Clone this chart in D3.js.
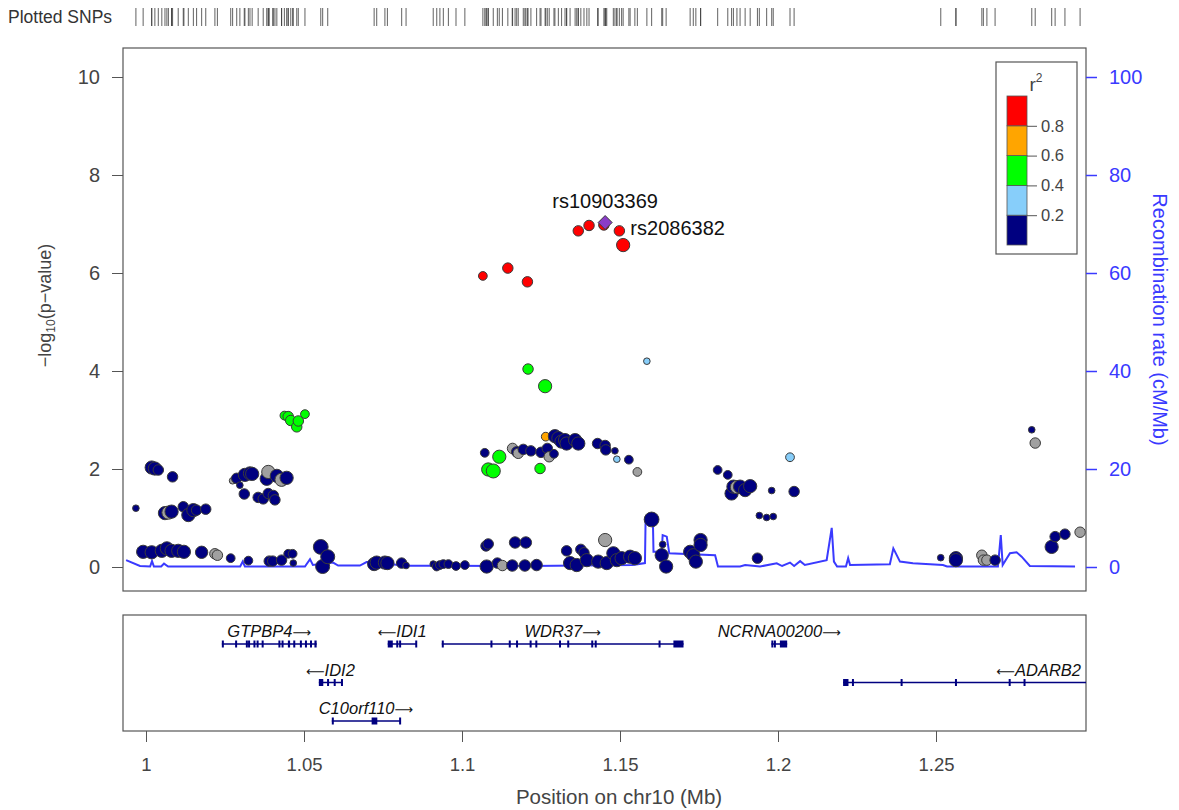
<!DOCTYPE html>
<html>
<head>
<meta charset="utf-8">
<script src="https://cdn.jsdelivr.net/npm/d3@7"></script>
<style>
  body { margin: 0; background: #fff; }
  text { font-family: "Liberation Sans", Arial, sans-serif; }
</style>
</head>
<body>
<div id="chart"></div>
<script>
// SNPs: [position (Mb), -log10(p), r2 with lead SNP (null = no LD info), marker weight]
const snps = [
  [0.9968, 1.20, 0.1, 0.2], [0.9991, 0.31, 0.1, 0.8], [1.0018, 2.03, 0.1, 0.8], [1.0018, 0.30, 0.1, 0.8],
  [1.0028, 2.01, 0.1, 0.8], [1.0039, 1.98, 0.1, 0.5], [1.0050, 0.33, 0.1, 0.8], [1.0060, 1.10, 0.1, 0.8],
  [1.0066, 0.38, 0.1, 0.8], [1.0071, 1.11, null, 0.8], [1.0081, 1.13, 0.1, 0.8], [1.0081, 0.33, 0.1, 0.8],
  [1.0084, 1.84, 0.1, 0.5], [1.0102, 0.33, 0.1, 0.8], [1.0118, 1.23, 0.1, 0.5], [1.0120, 0.31, 0.1, 0.8],
  [1.0134, 1.06, 0.1, 0.8], [1.0150, 1.16, 0.1, 0.8], [1.0160, 1.16, 0.1, 0.5], [1.0176, 0.30, 0.1, 0.7],
  [1.0189, 1.18, 0.1, 0.5], [1.0218, 0.27, null, 0.5], [1.0226, 0.24, null, 0.5], [1.0268, 0.18, 0.1, 0.35],
  [1.0274, 1.76, null, 0.2], [1.0287, 1.81, 0.1, 0.5], [1.0297, 1.67, 0.1, 0.2], [1.0311, 1.49, 0.1, 0.5],
  [1.0313, 1.88, 0.1, 0.8], [1.0324, 0.13, 0.1, 0.35], [1.0329, 1.91, 0.1, 0.8], [1.0336, 1.90, 0.1, 0.8],
  [1.0355, 1.42, 0.1, 0.5], [1.0371, 1.39, 0.1, 0.5], [1.0382, 1.80, 0.1, 0.8], [1.0387, 1.94, null, 0.8],
  [1.0387, 1.50, 0.1, 0.5], [1.0390, 0.12, 0.1, 0.5], [1.0401, 0.12, 0.1, 0.5], [1.0403, 1.46, 0.1, 0.5],
  [1.0408, 1.37, 0.1, 0.5], [1.0414, 1.86, 0.1, 0.8], [1.0429, 1.78, null, 0.8], [1.0429, 0.14, 0.1, 0.5],
  [1.0438, 3.09, 0.5, 0.35], [1.0445, 1.82, 0.1, 0.8], [1.0450, 3.07, 0.5, 0.5], [1.0450, 0.27, 0.1, 0.35],
  [1.0458, 2.99, 0.5, 0.5], [1.0464, 0.27, 0.1, 0.35], [1.0466, 0.08, 0.1, 0.2], [1.0477, 2.86, 0.5, 0.5],
  [1.0482, 2.98, 0.5, 0.5], [1.0503, 3.12, 0.5, 0.35], [1.0553, 0.41, 0.1, 1.0], [1.0559, 0.01, 0.1, 0.9],
  [1.0575, 0.21, 0.1, 0.9], [1.0722, 0.06, 0.1, 0.8], [1.0730, 0.09, 0.1, 0.8], [1.0756, 0.09, 0.1, 0.8],
  [1.0764, 0.08, 0.1, 0.8], [1.0809, 0.08, 0.1, 0.5], [1.0823, 0.03, 0.1, 0.2], [1.0909, 0.06, 0.1, 0.2],
  [1.0920, 0.01, 0.1, 0.35], [1.0930, 0.04, 0.1, 0.35], [1.0941, 0.06, 0.1, 0.35], [1.0957, 0.06, 0.1, 0.35],
  [1.0981, 0.02, 0.1, 0.35], [1.1009, 0.04, 0.1, 0.35], [1.1066, 5.94, 0.9, 0.35], [1.1072, 2.33, 0.1, 0.35],
  [1.1076, 0.43, 0.1, 0.5], [1.1078, 0.01, 0.1, 0.8], [1.1083, 0.47, 0.1, 0.5], [1.1083, 1.99, 0.5, 0.8],
  [1.1099, 1.96, 0.5, 0.9], [1.1112, 0.08, 0.1, 0.5], [1.1118, 2.25, 0.5, 0.8], [1.1128, 0.03, null, 0.5],
  [1.1145, 6.10, 0.9, 0.5], [1.1159, 0.03, 0.1, 0.6], [1.1160, 2.42, null, 0.5], [1.1168, 0.50, 0.1, 0.6],
  [1.1173, 2.35, 0.1, 0.5], [1.1178, 2.32, null, 0.5], [1.1194, 2.40, 0.1, 0.5], [1.1199, 0.03, 0.1, 0.6],
  [1.1202, 0.50, 0.1, 0.6], [1.1207, 5.82, 0.9, 0.5], [1.1209, 4.04, 0.5, 0.5], [1.1218, 2.37, 0.1, 0.5],
  [1.1236, 0.04, 0.1, 0.6], [1.1247, 2.01, 0.5, 0.5], [1.1250, 2.34, 0.1, 0.5], [1.1263, 3.69, 0.5, 0.8],
  [1.1265, 2.66, 0.7, 0.35], [1.1270, 2.42, 0.1, 0.5], [1.1276, 2.25, null, 0.5], [1.1291, 2.31, 0.1, 0.35],
  [1.1294, 2.67, 0.1, 0.8], [1.1305, 2.63, 0.1, 0.8], [1.1315, 2.56, 0.1, 0.8], [1.1326, 2.59, 0.1, 0.8],
  [1.1331, 2.52, 0.1, 0.8], [1.1331, 0.33, 0.1, 0.5], [1.1342, 0.08, 0.1, 0.8], [1.1358, 2.59, 0.1, 0.8],
  [1.1363, 0.04, 0.1, 0.8], [1.1368, 2.52, 0.1, 0.8], [1.1368, 6.86, 0.9, 0.5], [1.1376, 0.36, 0.1, 0.5],
  [1.1386, 0.29, 0.1, 0.5], [1.1395, 0.14, 0.1, 0.8], [1.1402, 6.97, 0.9, 0.5], [1.1429, 2.52, 0.1, 0.5],
  [1.1431, 0.11, 0.1, 0.8], [1.1449, 6.98, 0.9, 0.5], [1.1453, 2.48, 0.1, 0.5], [1.1453, 0.55, null, 0.8],
  [1.1455, 2.39, 0.1, 0.5], [1.1458, 0.08, 0.1, 0.8], [1.1479, 0.28, 0.1, 0.8], [1.1484, 2.37, 0.1, 0.2],
  [1.1490, 2.20, 0.3, 0.2], [1.1490, 0.14, 0.1, 0.8], [1.1498, 6.86, 0.9, 0.5], [1.1505, 0.18, 0.1, 0.8],
  [1.1510, 6.57, 0.9, 0.8], [1.1528, 2.19, 0.1, 0.35], [1.1532, 0.21, 0.1, 0.8], [1.1547, 0.18, 0.1, 0.8],
  [1.1555, 1.94, null, 0.35], [1.1585, 4.20, 0.3, 0.2], [1.1600, 0.97, 0.1, 1.0], [1.1632, 0.24, 0.1, 0.8],
  [1.1635, 0.46, 0.1, 0.2], [1.1646, 0.01, 0.1, 0.8], [1.1722, 0.31, 0.1, 0.8], [1.1732, 0.24, 0.1, 0.8],
  [1.1740, 0.11, 0.1, 0.8], [1.1755, 0.55, 0.1, 0.8], [1.1755, 0.45, 0.1, 0.8], [1.1809, 1.98, 0.1, 0.35],
  [1.1841, 1.88, 0.1, 0.35], [1.1853, 1.50, 0.1, 0.8], [1.1859, 1.64, 0.1, 0.8], [1.1870, 1.63, null, 0.8],
  [1.1880, 1.64, 0.1, 0.8], [1.1896, 1.57, 0.1, 0.8], [1.1912, 1.65, 0.1, 0.8], [1.1935, 0.18, 0.1, 0.5],
  [1.1941, 1.05, 0.1, 0.2], [1.1964, 1.01, 0.1, 0.2], [1.1980, 1.56, 0.1, 0.2], [1.1985, 1.03, 0.1, 0.2],
  [1.2038, 2.24, 0.3, 0.35], [1.2051, 1.54, 0.1, 0.5], [1.2515, 0.19, 0.1, 0.2], [1.2563, 0.18, 0.1, 0.8],
  [1.2563, 0.14, 0.1, 0.8], [1.2645, 0.24, null, 0.5], [1.2650, 0.14, null, 0.5], [1.2661, 0.14, null, 0.5],
  [1.2687, 0.14, 0.1, 0.5], [1.2803, 2.80, 0.1, 0.2], [1.2814, 2.53, null, 0.5], [1.2866, 0.41, 0.1, 0.8],
  [1.2877, 0.62, 0.1, 0.5], [1.2908, 0.67, 0.1, 0.5], [1.2956, 0.71, null, 0.5]
];

// lead SNP and labelled SNPs
const leadSnp = {name: 'rs10903369', pos: 1.1453, logp: 7.03};
const labelledSnps = [{name: 'rs2086382', pos: 1.1498, logp: 6.86}];

// recombination rate (cM/Mb)
const recombPos = [0.9937, 0.9981, 1.0013, 1.0019, 1.0025, 1.0048, 1.0057, 1.0070, 1.0298, 1.0306,
  1.0313, 1.0503, 1.0519, 1.0528, 1.0592, 1.0608, 1.0677, 1.0698, 1.0715, 1.0820, 1.0930, 1.1215,
  1.1541, 1.1579, 1.1581, 1.1604, 1.1606, 1.1632, 1.1635, 1.1648, 1.1656, 1.1801, 1.1810, 1.1880,
  1.1896, 1.1943, 1.1996, 1.2013, 1.2038, 1.2051, 1.2070, 1.2085, 1.2154, 1.2170, 1.2177, 1.2187,
  1.2215, 1.2222, 1.2228, 1.2354, 1.2365, 1.2386, 1.2427, 1.2522, 1.2535, 1.2696, 1.2705, 1.2711,
  1.2734, 1.2755, 1.2771, 1.2797, 1.2940];
const recombRate = [1.4, 0.2, 0.1, 1.2, 0.1, 0.1, 0.7, 0.1, 0.1, 1.1,
  0.1, 0.1, 1.6, 0.4, 0.9, 0.3, 0.3, 1.0, 1.0, 0.25, 0.25, 0.2,
  0.4, 0.8, 9.8, 9.8, 3.1, 3.1, 6.5, 6.2, 2.8, 2.4, 0.1, 0.1,
  0.4, 0.1, 0.75, 0.2, 0.9, 0.2, 1.2, 0.4, 1.4, 8.0, 1.1, 0.1,
  0.1, 1.8, 0.4, 0.55, 3.8, 1.1, 0.75, 0.4, 0.1, 0.1, 6.5, 0.4,
  2.8, 3.0, 2.1, 0.2, 0.1];

// genes (positions in Mb)
const genes = [
  {name: 'GTPBP4', start: 1.0240, end: 1.0540, strand: '+', exons: [[1.0240, 1.0243], [1.0282, 1.0285],
    [1.0316, 1.0319], [1.0323, 1.0326], [1.0340, 1.0343], [1.0350, 1.0353], [1.0366, 1.0369], [1.0419, 1.0422],
    [1.0429, 1.0432], [1.0449, 1.0456], [1.0466, 1.0469], [1.0487, 1.0490], [1.0503, 1.0506], [1.0519, 1.0522],
    [1.0533, 1.0540]]},
  {name: 'IDI2', start: 1.0547, end: 1.0620, strand: '-', exons: [[1.0547, 1.0561], [1.0573, 1.0576],
    [1.0594, 1.0597], [1.0617, 1.0620]]},
  {name: 'C10orf110', start: 1.0588, end: 1.0804, strand: '+', exons: [[1.0588, 1.0591], [1.0714, 1.0732],
    [1.0801, 1.0804]]},
  {name: 'IDI1', start: 1.0765, end: 1.0856, strand: '-', exons: [[1.0765, 1.0781], [1.0792, 1.0795],
    [1.0801, 1.0804], [1.0852, 1.0856]]},
  {name: 'WDR37', start: 1.0936, end: 1.1701, strand: '+', exons: [[1.0936, 1.0939], [1.1090, 1.1093],
    [1.1148, 1.1151], [1.1171, 1.1176], [1.1214, 1.1217], [1.1232, 1.1235], [1.1307, 1.1310], [1.1333, 1.1336],
    [1.1409, 1.1412], [1.1420, 1.1423], [1.1622, 1.1626], [1.1669, 1.1701]]},
  {name: 'NCRNA00200', start: 1.1979, end: 1.2029, strand: '+', exons: [[1.1979, 1.1982], [1.1987, 1.1990],
    [1.2006, 1.2029]]},
  {name: 'ADARB2', start: 1.2206, end: 1.7790, strand: '-', exons: [[1.2206, 1.2223], [1.2234, 1.2237],
    [1.2388, 1.2391], [1.2560, 1.2563], [1.2730, 1.2733], [1.2777, 1.2780]]}
];

const xTicks = [1, 1.05, 1.1, 1.15, 1.2, 1.25];
const yTicks = [0, 2, 4, 6, 8, 10];
const recombTicks = [0, 20, 40, 60, 80, 100];
const r2Breaks = [0.2, 0.4, 0.6, 0.8];
const r2Colors = ['#000080', '#87CEFA', '#00FF00', '#FFA500', '#FF0000'];
const r2Labels = ['0.2', '0.4', '0.6', '0.8'];

const W = 1179, H = 810;
const plot = {l: 123, r: 1086, t: 48, b: 591};
const genePanel = {t: 615, b: 731};
const blue = '#3a3aff';
const axisGrey = '#444';

const svg = d3.select('#chart').append('svg')
    .attr('width', W)
    .attr('height', H);

const x = d3.scaleLinear().domain([1, 1.25]).range([146, 936]);
const y = d3.scaleLinear().domain([0, 10]).range([567, 77]);
const yRec = d3.scaleLinear().domain([0, 100]).range([567, 77]);
const rad = d3.scaleSqrt().domain([0, 1]).range([0, 7.4]);
const color = d3.scaleThreshold().domain(r2Breaks).range(r2Colors);
const fillFor = r2 => r2 == null ? '#A0A0A0' : color(r2);

const defs = svg.append('defs');
defs.append('clipPath').attr('id', 'plotClip')
    .append('rect')
    .attr('x', plot.l).attr('y', plot.t)
    .attr('width', plot.r - plot.l).attr('height', plot.b - plot.t);
defs.append('clipPath').attr('id', 'geneClip')
    .append('rect')
    .attr('x', plot.l).attr('y', genePanel.t)
    .attr('width', plot.r - plot.l).attr('height', genePanel.b - genePanel.t);

// rug of plotted SNPs
svg.append('text')
    .attr('x', 8).attr('y', 23)
    .style('font-size', '17.5px')
    .attr('fill', '#333')
    .text('Plotted SNPs');

svg.append('g')
    .selectAll('line')
    .data(snps)
    .join('line')
    .attr('x1', d => x(d[0])).attr('x2', d => x(d[0]))
    .attr('y1', 8).attr('y2', 26)
    .attr('stroke', '#333')
    .attr('stroke-opacity', 0.7)
    .attr('stroke-width', 1.1);

// recombination rate line
const recomb = d3.zip(recombPos, recombRate);
svg.append('path')
    .datum(recomb)
    .attr('clip-path', 'url(#plotClip)')
    .attr('fill', 'none')
    .attr('stroke', blue)
    .attr('stroke-width', 2)
    .attr('d', d3.line().x(d => x(d[0])).y(d => yRec(d[1])));

// SNP points
svg.append('g')
    .attr('clip-path', 'url(#plotClip)')
    .selectAll('circle')
    .data(snps)
    .join('circle')
    .attr('cx', d => x(d[0]))
    .attr('cy', d => y(d[1]))
    .attr('r', d => rad(d[3]))
    .attr('fill', d => fillFor(d[2]))
    .attr('stroke', '#3a3a3a')
    .attr('stroke-width', 1);

// lead SNP diamond
const lx = x(leadSnp.pos), ly = y(leadSnp.logp);
svg.append('path')
    .attr('d', `M${lx},${ly - 7}L${lx + 7},${ly}L${lx},${ly + 7}L${lx - 7},${ly}Z`)
    .attr('fill', '#8A3CC8')
    .attr('stroke', '#3a3a3a')
    .attr('stroke-width', 1);

svg.append('text')
    .attr('x', lx).attr('y', ly - 15)
    .attr('text-anchor', 'middle')
    .style('font-size', '20px')
    .attr('fill', '#111')
    .text(leadSnp.name);

svg.selectAll('text.snp-label')
    .data(labelledSnps)
    .join('text')
    .attr('class', 'snp-label')
    .attr('x', d => x(d.pos) + 11)
    .attr('y', d => y(d.logp) + 4)
    .style('font-size', '20px')
    .attr('fill', '#111')
    .text(d => d.name);

// plot frame
svg.append('rect')
    .attr('x', plot.l).attr('y', plot.t)
    .attr('width', plot.r - plot.l).attr('height', plot.b - plot.t)
    .attr('fill', 'none')
    .attr('stroke', '#555')
    .attr('stroke-width', 1.2);

// axes
svg.append('g')
    .attr('transform', `translate(${plot.l},0)`)
    .call(d3.axisLeft(y).tickValues(yTicks).tickSize(11).tickPadding(12))
    .call(g => g.select('.domain').remove())
    .call(g => g.selectAll('line').attr('stroke', '#555'))
    .call(g => g.selectAll('text').attr('fill', axisGrey).style('font-size', '20px'));

svg.append('g')
    .attr('transform', `translate(${plot.r},0)`)
    .call(d3.axisRight(yRec).tickValues(recombTicks).tickSize(11).tickPadding(12))
    .call(g => g.select('.domain').remove())
    .call(g => g.selectAll('line').attr('stroke', blue).attr('stroke-width', 1.5))
    .call(g => g.selectAll('text').attr('fill', blue).style('font-size', '20px'));

svg.append('g')
    .attr('transform', `translate(0,${genePanel.b})`)
    .call(d3.axisBottom(x).tickValues(xTicks).tickSize(11).tickPadding(16).tickFormat(d => String(d)))
    .call(g => g.select('.domain').remove())
    .call(g => g.selectAll('line').attr('stroke', '#555'))
    .call(g => g.selectAll('text').attr('fill', axisGrey).style('font-size', '18.5px'));

// axis titles
const yTitle = svg.append('text')
    .attr('transform', `translate(51,${(plot.t + plot.b) / 2 - 14}) rotate(-90)`)
    .attr('text-anchor', 'middle')
    .style('font-size', '18px')
    .attr('fill', axisGrey);
yTitle.append('tspan').text('\u2212log');
yTitle.append('tspan').attr('dy', 4).style('font-size', '12px').text('10');
yTitle.append('tspan').attr('dy', -4).text('(p\u2212value)');

svg.append('text')
    .attr('transform', `translate(1153,${(plot.t + plot.b) / 2}) rotate(90)`)
    .attr('text-anchor', 'middle')
    .style('font-size', '20px')
    .attr('fill', blue)
    .text('Recombination rate (cM/Mb)');

svg.append('text')
    .attr('x', 619).attr('y', 804)
    .attr('text-anchor', 'middle')
    .style('font-size', '20.5px')
    .attr('fill', axisGrey)
    .text('Position on chr10 (Mb)');

// r2 legend
const leg = {l: 996, r: 1077, t: 62, b: 254};
const yLeg = d3.scaleLinear().domain([0, 1]).range([245, 96]);
const legBar = {l: 1007, r: 1027};
svg.append('rect')
    .attr('x', leg.l).attr('y', leg.t)
    .attr('width', leg.r - leg.l).attr('height', leg.b - leg.t)
    .attr('fill', '#fff')
    .attr('stroke', '#555')
    .attr('stroke-width', 1.2);

const legTitle = svg.append('text')
    .attr('x', 1036).attr('y', 91)
    .attr('text-anchor', 'middle')
    .style('font-size', '19px')
    .attr('fill', axisGrey);
legTitle.append('tspan').text('r');
legTitle.append('tspan').attr('dy', -9).style('font-size', '12px').text('2');

const bounds = [0, ...r2Breaks, 1];
svg.append('g')
    .selectAll('rect')
    .data(r2Colors)
    .join('rect')
    .attr('x', legBar.l)
    .attr('width', legBar.r - legBar.l)
    .attr('y', (d, i) => yLeg(bounds[i + 1]))
    .attr('height', (d, i) => yLeg(bounds[i]) - yLeg(bounds[i + 1]))
    .attr('fill', d => d)
    .attr('stroke', '#555')
    .attr('stroke-width', 0.8);

svg.append('g')
    .attr('transform', `translate(${legBar.r},0)`)
    .call(d3.axisRight(yLeg).tickValues(r2Breaks).tickSize(10).tickPadding(4)
        .tickFormat((d, i) => r2Labels[i]))
    .call(g => g.select('.domain').remove())
    .call(g => g.selectAll('line').attr('stroke', '#555'))
    .call(g => g.selectAll('text').attr('fill', axisGrey).style('font-size', '16.5px'));

// gene panel
svg.append('rect')
    .attr('x', plot.l).attr('y', genePanel.t)
    .attr('width', plot.r - plot.l).attr('height', genePanel.b - genePanel.t)
    .attr('fill', 'none')
    .attr('stroke', '#555')
    .attr('stroke-width', 1.2);

const geneG = svg.append('g').attr('clip-path', 'url(#geneClip)');
const rowY = row => genePanel.t + 29 + row * 38.5;
const rowEnds = [];
const pad = 12;

genes.slice().sort((a, b) => a.start - b.start).forEach(gene => {
    const t = geneG.append('text')
        .attr('text-anchor', 'middle')
        .style('font-size', '16.5px')
        .style('font-style', 'italic')
        .attr('fill', '#111');
    const arrow = sym => t.append('tspan')
        .style('font-family', '"DejaVu Sans"')
        .style('font-style', 'normal')
        .style('font-size', '13px')
        .text(sym);
    if (gene.strand === '+') {
        t.append('tspan').text(gene.name);
        arrow('\u27F6');
    } else {
        arrow('\u27F5');
        t.append('tspan').text(gene.name);
    }
    const w = t.node().getComputedTextLength();
    let cx = x((gene.start + gene.end) / 2);
    cx = Math.min(cx, plot.r - 5 - w / 2);
    cx = Math.max(cx, plot.l + 5 + w / 2);
    const left = Math.min(x(gene.start), cx - w / 2);
    const right = Math.max(Math.min(x(gene.end), plot.r), cx + w / 2);

    let row = rowEnds.findIndex(e => left > e + pad);
    if (row === -1) { row = rowEnds.length; rowEnds.push(right); }
    else rowEnds[row] = right;
    const gy = rowY(row);

    t.attr('x', cx).attr('y', gy - 7);

    geneG.append('line')
        .attr('x1', x(gene.start)).attr('x2', x(gene.end))
        .attr('y1', gy).attr('y2', gy)
        .attr('stroke', '#000080')
        .attr('stroke-width', 1.5);

    geneG.selectAll(null)
        .data(gene.exons)
        .join('rect')
        .attr('x', d => x(d[0]))
        .attr('width', d => Math.max(2, x(d[1]) - x(d[0])))
        .attr('y', gy - 3.5)
        .attr('height', 7)
        .attr('fill', '#000080');
});
</script>
</body>
</html>
